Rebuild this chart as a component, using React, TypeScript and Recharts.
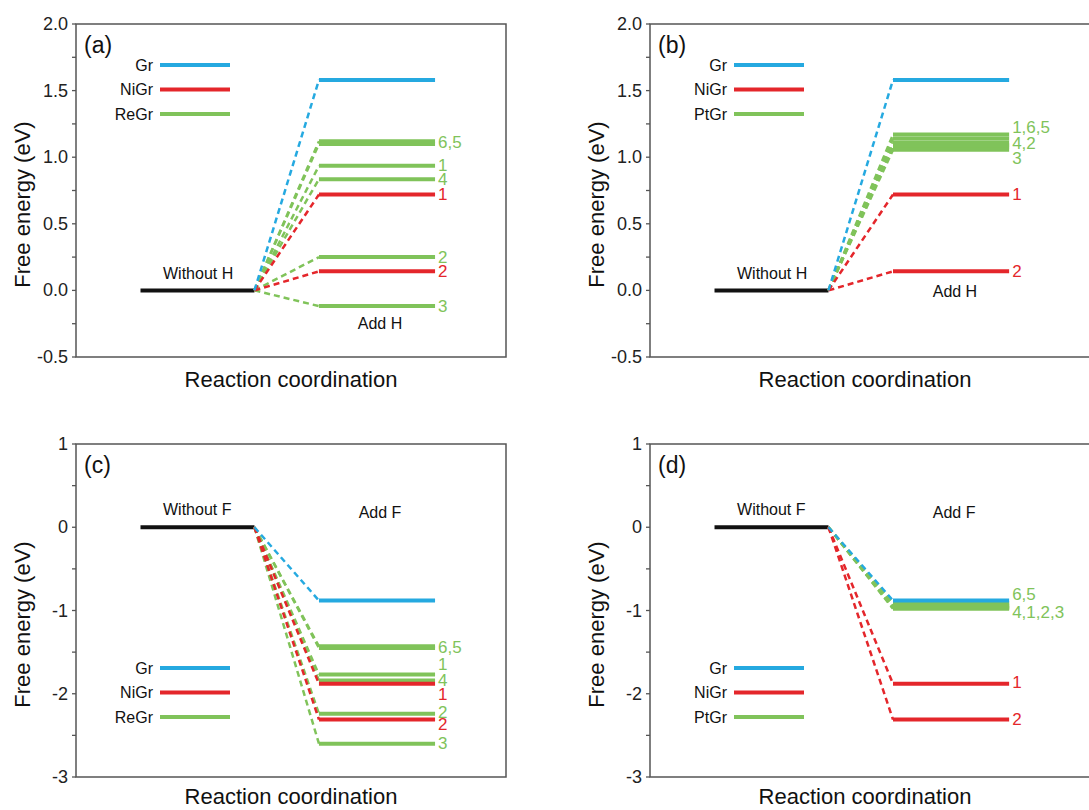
import React from "react";
import { ComposedChart, Line, Scatter, XAxis, YAxis, ReferenceArea } from "recharts";

const BLUE = "#25a9e0";
const RED = "#e4262b";
const GREEN = "#80c35a";
const AXIS = "#555";
const FONT = "'Liberation Sans', Arial, Helvetica, sans-serif";

// reaction coordinate: initial state segment, final state segment
const X_START = [1.5, 4.15];
const X_END = [5.65, 8.35];
const X_TAG = 8.42;

// H adsorption energies (eV), sites 1..n
const grH = [1.58];
const niGrH = [0.72, 0.143];
const reGrH = [0.935, 0.25, -0.118, 0.835, 1.1, 1.12];
const ptGrH = [1.17, 1.08, 1.055, 1.09, 1.11, 1.14];

// F adsorption energies (eV)
const grF = [-0.88];
const niGrF = [-1.88, -2.31];
const reGrF = [-1.77, -2.24, -2.6, -1.84, -1.45, -1.43];
const ptGrF = [-0.96, -0.97, -0.98, -0.95, -0.93, -0.91];

// site labels next to the levels: [text, y, colour]
const tagsA: [string, number, string][] = [
  ["6,5", 1.11, GREEN],
  ["1", 0.94, GREEN],
  ["4", 0.83, GREEN],
  ["1", 0.72, RED],
  ["2", 0.25, GREEN],
  ["2", 0.143, RED],
  ["3", -0.118, GREEN],
];
const tagsB: [string, number, string][] = [
  ["1,6,5", 1.22, GREEN],
  ["4,2", 1.1, GREEN],
  ["3", 0.99, GREEN],
  ["1", 0.72, RED],
  ["2", 0.143, RED],
];
const tagsC: [string, number, string][] = [
  ["6,5", -1.44, GREEN],
  ["1", -1.65, GREEN],
  ["4", -1.84, GREEN],
  ["1", -2.01, RED],
  ["2", -2.22, GREEN],
  ["2", -2.37, RED],
  ["3", -2.6, GREEN],
];
const tagsD: [string, number, string][] = [
  ["6,5", -0.81, GREEN],
  ["4,1,2,3", -1.03, GREEN],
  ["1", -1.87, RED],
  ["2", -2.31, RED],
];

// state captions: [text, x, y]
const notesH: [string, number, number][] = [
  ["Without H", 2.84, 0.13],
  ["Add H", 7.07, -0.25],
];
const notesHb: [string, number, number][] = [
  ["Without H", 2.84, 0.13],
  ["Add H", 7.09, -0.01],
];
const notesF: [string, number, number][] = [
  ["Without F", 2.82, 0.21],
  ["Add F", 7.07, 0.18],
];

const ticksH = [-0.5, -0.25, 0, 0.25, 0.5, 0.75, 1, 1.25, 1.5, 1.75, 2];
const ticksF = [-3, -2.5, -2, -1.5, -1, -0.5, 0, 0.5, 1];

type Series = { name: string; color: string; values: number[] };

const TextShape = (p: any) => (
  <text
    x={p.cx}
    y={p.cy}
    fill={p.payload.color}
    fontSize={p.payload.size}
    fontFamily={FONT}
    textAnchor={p.payload.anchor}
    dominantBaseline="central"
  >
    {p.payload.text}
  </text>
);

function Panel(props: {
  left: number;
  top: number;
  height: number;
  plotLeft: number;
  plotW: number;
  xMax: number;
  letter: string;
  yDomain: [number, number];
  ticks: number[];
  major: number;
  decimals: number;
  series: Series[];
  tags: [string, number, string][];
  notes: [string, number, number][];
  legendTop: number;
  titleGap: number;
}) {
  const { left, top, height, plotLeft, plotW, xMax, series } = props;
  const plotTop = 24;
  const plotH = 333;
  const bottom = height - plotTop - plotH;
  const width = plotLeft + plotW + (xMax > 10 ? 0 : 39);

  const levels = series.flatMap((s) => s.values.map((v, i) => ({ key: `${s.name}-${i}`, color: s.color, v })));
  const textData = [
    ...props.tags.map(([text, y, color]) => ({ x: X_TAG, y, text, color, anchor: "start", size: 17 })),
    ...props.notes.map(([text, x, y]) => ({ x, y, text, color: "#111", anchor: "middle", size: 16 })),
  ];

  const renderTick = (p: any) => {
    const val = p.payload.value;
    const isMajor = Math.abs(val / props.major - Math.round(val / props.major)) < 1e-6;
    if (!isMajor) return <g />;
    return (
      <text x={p.x} y={p.y} textAnchor="end" dominantBaseline="central" fontSize={18} fontFamily={FONT} fill="#222">
        {val.toFixed(props.decimals)}
      </text>
    );
  };

  const legendOrder = [...series].reverse();

  return (
    <div style={{ position: "absolute", left, top, width, height }}>
      <ComposedChart
        width={width}
        height={height}
        margin={{ top: plotTop, right: xMax > 10 ? 0 : 39, bottom, left: plotLeft - 64 }}
      >
        <XAxis type="number" dataKey="x" domain={[0, xMax]} allowDataOverflow hide />
        <YAxis
          type="number"
          dataKey="y"
          width={64}
          domain={props.yDomain}
          allowDataOverflow
          ticks={props.ticks}
          interval={0}
          tickSize={4}
          tickMargin={4}
          axisLine={false}
          tickLine={{ stroke: AXIS, strokeWidth: 1.3 }}
          tick={renderTick}
        />
        <ReferenceArea
          x1={0}
          x2={xMax}
          y1={props.yDomain[0]}
          y2={props.yDomain[1]}
          fill="none"
          fillOpacity={0}
          stroke={AXIS}
          strokeWidth={1.5}
        />
        <Line
          data={[
            { x: X_START[0], y: 0 },
            { x: X_START[1], y: 0 },
          ]}
          dataKey="y"
          stroke="#111"
          strokeWidth={4}
          dot={false}
          activeDot={false}
          isAnimationActive={false}
        />
        {levels.map((l) => (
          <Line
            key={`d-${l.key}`}
            data={[
              { x: X_START[1], y: 0 },
              { x: X_END[0], y: l.v },
            ]}
            dataKey="y"
            stroke={l.color}
            strokeWidth={2.5}
            strokeDasharray="6 4"
            dot={false}
            activeDot={false}
            isAnimationActive={false}
          />
        ))}
        {levels.map((l) => (
          <Line
            key={`s-${l.key}`}
            data={[
              { x: X_END[0], y: l.v },
              { x: X_END[1], y: l.v },
            ]}
            dataKey="y"
            stroke={l.color}
            strokeWidth={4}
            dot={false}
            activeDot={false}
            isAnimationActive={false}
          />
        ))}
        <Scatter data={textData} dataKey="y" shape={TextShape} isAnimationActive={false} />
      </ComposedChart>
      <svg
        width={width}
        height={height}
        style={{ position: "absolute", left: 0, top: 0, pointerEvents: "none" }}
        fontFamily={FONT}
      >
        <text x={plotLeft + 8} y={plotTop + 21} fontSize={23} dominantBaseline="central" fill="#111">
          {props.letter}
        </text>
        {legendOrder.map((s, i) => {
          const cy = plotTop + props.legendTop + i * 24.5;
          return (
            <g key={s.name}>
              <text x={plotLeft + 77} y={cy} fontSize={16} textAnchor="end" dominantBaseline="central" fill="#111">
                {s.name}
              </text>
              <line x1={plotLeft + 84} x2={plotLeft + 154} y1={cy} y2={cy} stroke={s.color} strokeWidth={4} />
            </g>
          );
        })}
        <text
          transform={`translate(${plotLeft - 54}, ${plotTop + plotH / 2 + 14}) rotate(-90)`}
          fontSize={22}
          textAnchor="middle"
          dominantBaseline="central"
          fill="#111"
        >
          Free energy (eV)
        </text>
        <text x={plotLeft + 215} y={plotTop + plotH + props.titleGap} fontSize={22} textAnchor="middle" fill="#111">
          Reaction coordination
        </text>
      </svg>
    </div>
  );
}

export default function App() {
  const sA: Series[] = [
    { name: "ReGr", color: GREEN, values: reGrH },
    { name: "NiGr", color: RED, values: niGrH },
    { name: "Gr", color: BLUE, values: grH },
  ];
  const sB: Series[] = [
    { name: "PtGr", color: GREEN, values: ptGrH },
    { name: "NiGr", color: RED, values: niGrH },
    { name: "Gr", color: BLUE, values: grH },
  ];
  const sC: Series[] = [
    { name: "ReGr", color: GREEN, values: reGrF },
    { name: "NiGr", color: RED, values: niGrF },
    { name: "Gr", color: BLUE, values: grF },
  ];
  const sD: Series[] = [
    { name: "PtGr", color: GREEN, values: ptGrF },
    { name: "NiGr", color: RED, values: niGrF },
    { name: "Gr", color: BLUE, values: grF },
  ];

  return (
    <div
      style={{
        position: "absolute",
        left: 0,
        top: 0,
        width: 1089,
        height: 810,
        overflow: "hidden",
        background: "#fff",
        fontFamily: FONT,
      }}
    >
      <Panel
        left={0}
        top={0}
        height={400}
        plotLeft={76}
        plotW={430}
        xMax={10}
        letter="(a)"
        yDomain={[-0.5, 2]}
        ticks={ticksH}
        major={0.5}
        decimals={1}
        series={sA}
        tags={tagsA}
        notes={notesH}
        legendTop={41}
        titleGap={30}
      />
      <Panel
        left={545}
        top={0}
        height={400}
        plotLeft={105}
        plotW={443}
        xMax={10.3}
        letter="(b)"
        yDomain={[-0.5, 2]}
        ticks={ticksH}
        major={0.5}
        decimals={1}
        series={sB}
        tags={tagsB}
        notes={notesHb}
        legendTop={41}
        titleGap={30}
      />
      <Panel
        left={0}
        top={420}
        height={390}
        plotLeft={76}
        plotW={430}
        xMax={10}
        letter="(c)"
        yDomain={[-3, 1]}
        ticks={ticksF}
        major={1}
        decimals={0}
        series={sC}
        tags={tagsC}
        notes={notesF}
        legendTop={224}
        titleGap={27}
      />
      <Panel
        left={545}
        top={420}
        height={390}
        plotLeft={105}
        plotW={443}
        xMax={10.3}
        letter="(d)"
        yDomain={[-3, 1]}
        ticks={ticksF}
        major={1}
        decimals={0}
        series={sD}
        tags={tagsD}
        notes={notesF}
        legendTop={224}
        titleGap={27}
      />
    </div>
  );
}
